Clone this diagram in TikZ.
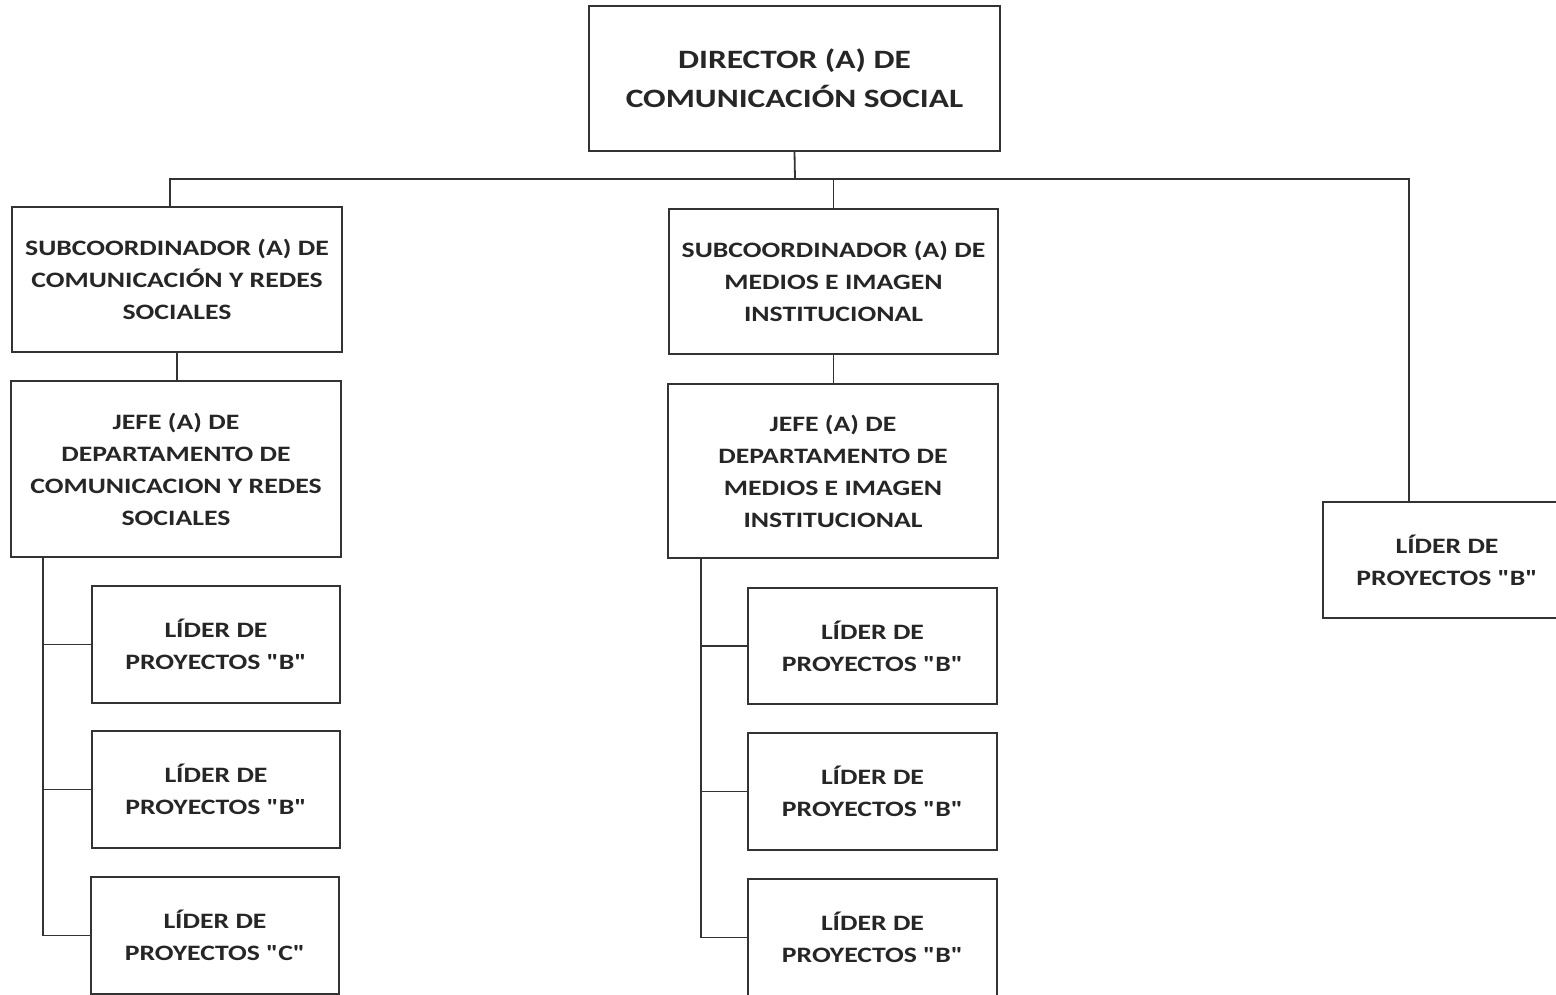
\documentclass[tikz,border=0pt]{standalone}
\usepackage{fontspec}
\setmainfont{Carlito}[FakeStretch=1.26, Ligatures=TeXOff]
\definecolor{ink}{HTML}{262626}
\definecolor{linec}{HTML}{333333}
\newcommand{\qB}[1]{\symbol{34}#1\symbol{34}}
\begin{document}
\begin{tikzpicture}[x=1pt,y=-1pt,
  box/.style={draw=linec, line width=1.8pt, rectangle, align=center, text=ink,
    inner sep=0pt, font=\bfseries\fontsize{22}{32}\selectfont},
  bigbox/.style={box, font=\bfseries\fontsize{26.5}{39}\selectfont},
  conn/.style={draw=linec, line width=1.8pt}]
\useasboundingbox (0,0) rectangle (1556,994);
\clip (0,0) rectangle (1556,994);
\fill[white] (0,0) rectangle (1556,994);
% nodes
\node[bigbox, minimum width=411pt, minimum height=145pt] (dir) at (794.5,78.5) {DIRECTOR (A) DE\\COMUNICACIÓN SOCIAL};
\node[box, minimum width=330pt, minimum height=145pt] (sub1) at (177,279.5) {SUBCOORDINADOR (A) DE\\COMUNICACIÓN Y REDES\\SOCIALES};
\node[box, minimum width=329pt, minimum height=145pt] (sub2) at (833.5,281.5) {SUBCOORDINADOR (A) DE\\MEDIOS E IMAGEN\\INSTITUCIONAL};
\node[box, minimum width=330pt, minimum height=176pt] (jefe1) at (176,469) {JEFE (A) DE\\DEPARTAMENTO DE\\COMUNICACION Y REDES\\SOCIALES};
\node[box, minimum width=330pt, minimum height=174pt] (jefe2) at (833,471) {JEFE (A) DE\\DEPARTAMENTO DE\\MEDIOS E IMAGEN\\INSTITUCIONAL};
\node[box, minimum width=248pt, minimum height=116pt] (lr) at (1447,560) {LÍDER DE\\PROYECTOS \qB{B}};
\node[box, minimum width=248pt, minimum height=117pt] (l1) at (216,644.5) {LÍDER DE\\PROYECTOS \qB{B}};
\node[box, minimum width=248pt, minimum height=117pt] (l2) at (216,789.5) {LÍDER DE\\PROYECTOS \qB{B}};
\node[box, minimum width=248pt, minimum height=117pt] (l3) at (215,935.5) {LÍDER DE\\PROYECTOS \qB{C}};
\node[box, minimum width=249pt, minimum height=116pt] (m1) at (872.5,646) {LÍDER DE\\PROYECTOS \qB{B}};
\node[box, minimum width=249pt, minimum height=117pt] (m2) at (872.5,791.5) {LÍDER DE\\PROYECTOS \qB{B}};
\node[box, minimum width=249pt, minimum height=117pt] (m3) at (872.5,937.5) {LÍDER DE\\PROYECTOS \qB{B}};
% connectors
\coordinate (bus) at (795,179);
\coordinate (s1top) at (170,207);
\coordinate (lbar) at (43,557);
\coordinate (mbar) at (701,558);
\draw[conn] (dir.south) -- (bus);
\draw[conn] (s1top) |- (bus);
\draw[conn] (bus) -| (lr.north -| 1409,0);
\draw[conn] (sub2.north) -- (sub2.north |- bus);
\draw[conn] (sub1.south) -- (sub1.south |- jefe1.north);
\draw[conn] (sub2.south) -- (sub2.south |- jefe2.north);
\draw[conn] (lbar) |- (l3.west);
\draw[conn] (lbar |- l1.west) -- (l1.west);
\draw[conn] (lbar |- l2.west) -- (l2.west);
\draw[conn] (mbar) |- (m3.west);
\draw[conn] (mbar |- m1.west) -- (m1.west);
\draw[conn] (mbar |- m2.west) -- (m2.west);
\end{tikzpicture}
\end{document}
